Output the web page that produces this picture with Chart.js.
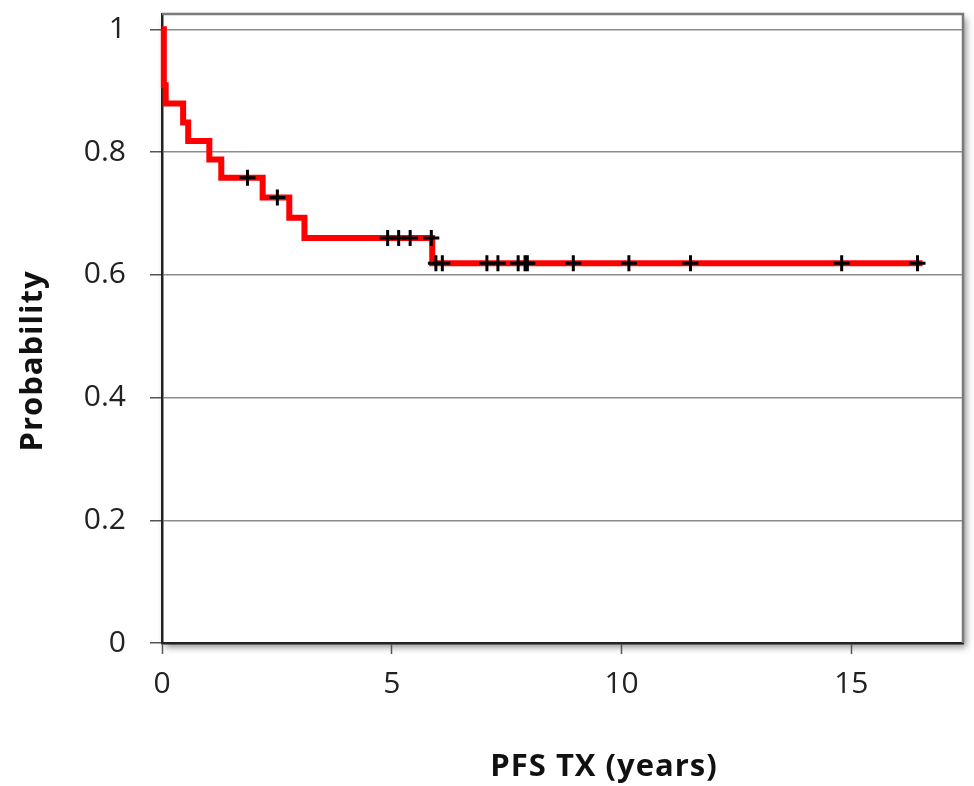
<!DOCTYPE html>
<html>
<head>
<meta charset="utf-8">
<script src="https://cdn.jsdelivr.net/npm/chart.js@4/dist/chart.umd.min.js"></script>
<style>
  html, body { margin: 0; padding: 0; background: #fff; }
  #wrap { width: 974px; height: 786px; }
</style>
</head>
<body>
<div id="wrap"><canvas id="kmChart" width="974" height="786"></canvas></div>
<script>
// Kaplan-Meier steps: time (years) where the curve drops, and the new probability
const eventTimes = [0, 0.04, 0.08, 0.46, 0.57, 1.03, 1.29, 2.19, 2.77, 3.10, 5.88, 16.55];
const survival   = [1, 0.909, 0.879, 0.848, 0.818, 0.788, 0.758, 0.726, 0.693, 0.660, 0.619, 0.619];

// censored observations (+ marks)
const censorTimes = [1.86, 2.51, 4.91, 5.15, 5.40, 5.86, 5.96, 6.10, 7.07, 7.31, 7.75, 7.90, 7.95, 8.95, 10.16, 11.50, 14.79, 16.44];
const censorProb  = [0.758, 0.726, 0.660, 0.660, 0.660, 0.660, 0.619, 0.619, 0.619, 0.619, 0.619, 0.619, 0.619, 0.619, 0.619, 0.619, 0.619, 0.619];

const xTicks = [0, 5, 10, 15];
const yTicks = [0, 0.2, 0.4, 0.6, 0.8, 1];

const xTitle = 'PFS TX (years)';
const yTitle = 'Probability';

const tickFont = { family: 'Open Sans', size: 30 };

// plot area shadow + top/right frame + axis titles
const frame = {
  id: 'frame',
  beforeDraw(chart) {
    const { ctx, chartArea: a } = chart;
    ctx.save();
    ctx.shadowColor = 'rgba(0,0,0,0.45)';
    ctx.shadowBlur = 7;
    ctx.shadowOffsetX = 3;
    ctx.shadowOffsetY = 4;
    ctx.fillStyle = '#fff';
    ctx.fillRect(a.left, a.top, a.right - a.left, a.bottom - a.top);
    ctx.restore();
  },
  beforeDatasetsDraw(chart) {
    const { ctx, chartArea: a } = chart;
    ctx.save();
    ctx.strokeStyle = '#7a7a7a';
    ctx.lineWidth = 2.5;
    ctx.beginPath();
    ctx.moveTo(a.left, a.top);
    ctx.lineTo(a.right, a.top);
    ctx.lineTo(a.right, a.bottom);
    ctx.stroke();
    ctx.restore();
  },
  afterDraw(chart) {
    const { ctx } = chart;
    ctx.save();
    ctx.fillStyle = '#111';
    ctx.font = 'bold 31px "Open Sans"';
    ctx.letterSpacing = '1px';
    ctx.textAlign = 'center';
    ctx.textBaseline = 'middle';
    ctx.fillText(xTitle, 604, 767);
    ctx.translate(33, 361);
    ctx.rotate(-Math.PI / 2);
    ctx.fillText(yTitle, 0, 0);
    ctx.restore();
  }
};

new Chart(document.getElementById('kmChart'), {
  type: 'scatter',
  data: {
    datasets: [
      {
        label: 'censored',
        data: censorTimes.map((t, i) => ({ x: t, y: censorProb[i] })),
        pointStyle: 'cross',
        pointRadius: 8,
        pointBorderWidth: 3,
        borderColor: '#000',
        backgroundColor: '#000',
        showLine: false,
        clip: false,
        order: 0
      },
      {
        label: 'survival',
        data: eventTimes.map((t, i) => ({ x: t, y: survival[i] })),
        showLine: true,
        stepped: 'before',
        borderColor: '#ff0000',
        borderWidth: 6,
        pointRadius: 0,
        fill: false,
        clip: false,
        order: 1
      }
    ]
  },
  options: {
    responsive: false,
    animation: false,
    layout: { padding: { left: 0, top: 14, right: 3, bottom: 0 } },
    plugins: {
      legend: { display: false },
      tooltip: { enabled: false }
    },
    scales: {
      x: {
        type: 'linear',
        min: 0,
        max: 17.43,
        afterBuildTicks: (s) => { s.ticks = xTicks.map(v => ({ value: v })); },
        afterFit: (s) => { s.height = 143; s.paddingLeft = 0; s.paddingRight = 0; },
        grid: { drawOnChartArea: false, drawTicks: true, tickLength: 11, tickColor: '#555', tickWidth: 1.5 },
        border: { display: true, color: '#222', width: 2.5 },
        ticks: { font: tickFont, color: '#222', padding: 12, maxRotation: 0 }
      },
      y: {
        type: 'linear',
        min: 0,
        max: 1.025,
        afterBuildTicks: (s) => { s.ticks = yTicks.map(v => ({ value: v })); },
        afterFit: (s) => { s.width = 162; s.paddingTop = 0; s.paddingBottom = 0; },
        grid: { color: '#8c8c8c', lineWidth: 1.5, drawTicks: true, tickLength: 12, tickColor: '#555' },
        border: { display: true, color: '#222', width: 2.5 },
        ticks: { font: tickFont, color: '#222', padding: 24, callback: (v) => String(+v.toFixed(1)) }
      }
    }
  },
  plugins: [frame]
});
</script>
</body>
</html>
